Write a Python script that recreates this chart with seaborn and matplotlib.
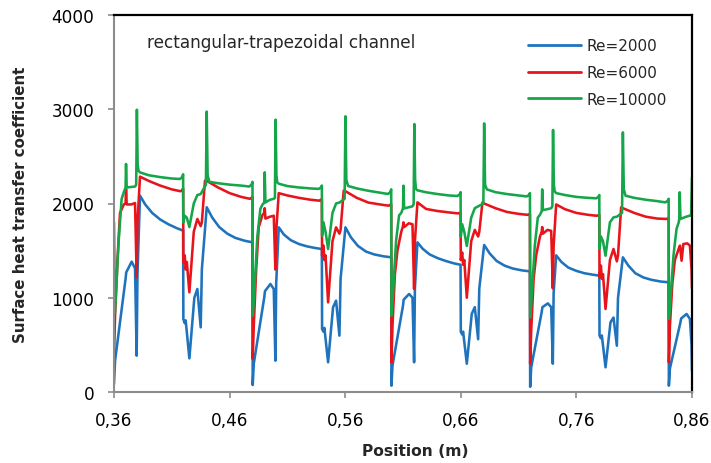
import numpy as np
import pandas as pd
import matplotlib
matplotlib.use("Agg")
import matplotlib.pyplot as plt
import seaborn as sns
from matplotlib.lines import Line2D

series_names = ["Re=2000", "Re=6000", "Re=10000"]
colors = ["#1f73bd", "#e8141b", "#16a64a"]
x_ticks = [0.36, 0.46, 0.56, 0.66, 0.76, 0.86]
x_tick_labels = ["0,36", "0,46", "0,56", "0,66", "0,76", "0,86"]
y_ticks = [0, 1000, 2000, 3000, 4000]

# ---- Re=2000 (blue) ----
blue_x = [
    0.3600, 0.3609, 0.3700, 0.3706, 0.3753, 0.3782, 0.3796, 0.3803, 0.3825, 0.3870, 0.3930, 0.4000, 0.4070, 0.4140, 0.4198,
    0.4200, 0.4212, 0.4220, 0.4252, 0.4295, 0.4321, 0.4350, 0.4360, 0.4402, 0.4450, 0.4510, 0.4580, 0.4650, 0.4730, 0.4798,
    0.4800, 0.4809, 0.4900, 0.4906, 0.4953, 0.4982, 0.4996, 0.5003, 0.5025, 0.5070, 0.5130, 0.5200, 0.5270, 0.5340, 0.5398,
    0.5400, 0.5412, 0.5420, 0.5452, 0.5495, 0.5521, 0.5550, 0.5560, 0.5602, 0.5650, 0.5710, 0.5780, 0.5850, 0.5930, 0.5998,
    0.6000, 0.6009, 0.6100, 0.6106, 0.6153, 0.6182, 0.6196, 0.6203, 0.6225, 0.6270, 0.6330, 0.6400, 0.6470, 0.6540, 0.6598,
    0.6600, 0.6612, 0.6620, 0.6652, 0.6695, 0.6721, 0.6750, 0.6760, 0.6802, 0.6850, 0.6910, 0.6980, 0.7050, 0.7130, 0.7198,
    0.7200, 0.7209, 0.7300, 0.7306, 0.7353, 0.7382, 0.7396, 0.7403, 0.7425, 0.7470, 0.7530, 0.7600, 0.7670, 0.7740, 0.7798,
    0.7800, 0.7812, 0.7820, 0.7852, 0.7895, 0.7921, 0.7950, 0.7960, 0.8002, 0.8050, 0.8110, 0.8180, 0.8250, 0.8330, 0.8398,
    0.8400, 0.8409, 0.8500, 0.8506, 0.8553, 0.8582, 0.8596, 0.8600,
]
blue_y = [
    85, 330, 1200, 1270, 1383, 1312, 385, 1250, 2083, 1990, 1900, 1830, 1780, 1740, 1712,
    774, 730, 760, 357, 1000, 1093, 686, 1300, 1960, 1850, 1750, 1680, 1635, 1605, 1588,
    74, 300, 1005, 1070, 1146, 1093, 332, 1150, 1747, 1670, 1610, 1570, 1545, 1528, 1517,
    668, 640, 680, 315, 900, 969, 598, 1200, 1747, 1640, 1550, 1490, 1460, 1440, 1429,
    67, 280, 916, 980, 1040, 1000, 315, 1100, 1588, 1520, 1460, 1420, 1390, 1365, 1350,
    640, 610, 640, 300, 830, 900, 560, 1100, 1560, 1470, 1390, 1340, 1310, 1290, 1280,
    55, 260, 850, 900, 940, 900, 300, 1050, 1450, 1380, 1320, 1285, 1260, 1245, 1235,
    600, 570, 600, 262, 740, 790, 491, 1000, 1429, 1340, 1260, 1215, 1190, 1172, 1164,
    67, 250, 739, 780, 828, 775, 500, 226,
]

# ---- Re=6000 (red) ----
red_x = [
    0.3600, 0.3609, 0.3630, 0.3652, 0.3685, 0.3700, 0.3704, 0.3710, 0.3750, 0.3782, 0.3796, 0.3803, 0.3825, 0.3900, 0.4000, 0.4100, 0.4175, 0.4190, 0.4198,
    0.4200, 0.4212, 0.4220, 0.4230, 0.4252, 0.4290, 0.4321, 0.4350, 0.4360, 0.4387, 0.4402, 0.4500, 0.4600, 0.4700, 0.4775, 0.4790, 0.4798,
    0.4800, 0.4809, 0.4830, 0.4852, 0.4885, 0.4900, 0.4904, 0.4910, 0.4950, 0.4982, 0.4996, 0.5003, 0.5025, 0.5100, 0.5200, 0.5300, 0.5375, 0.5390, 0.5398,
    0.5400, 0.5412, 0.5420, 0.5430, 0.5452, 0.5490, 0.5521, 0.5550, 0.5560, 0.5587, 0.5602, 0.5700, 0.5800, 0.5900, 0.5975, 0.5990, 0.5998,
    0.6000, 0.6009, 0.6030, 0.6052, 0.6085, 0.6100, 0.6104, 0.6110, 0.6150, 0.6182, 0.6196, 0.6203, 0.6225, 0.6300, 0.6400, 0.6500, 0.6575, 0.6590, 0.6598,
    0.6600, 0.6612, 0.6620, 0.6630, 0.6652, 0.6690, 0.6721, 0.6750, 0.6760, 0.6787, 0.6802, 0.6900, 0.7000, 0.7100, 0.7175, 0.7190, 0.7198,
    0.7200, 0.7209, 0.7230, 0.7252, 0.7285, 0.7300, 0.7304, 0.7310, 0.7350, 0.7382, 0.7396, 0.7403, 0.7425, 0.7500, 0.7600, 0.7700, 0.7775, 0.7790, 0.7798,
    0.7800, 0.7812, 0.7820, 0.7830, 0.7852, 0.7890, 0.7921, 0.7950, 0.7960, 0.7987, 0.8002, 0.8100, 0.8200, 0.8300, 0.8375, 0.8390, 0.8398,
    0.8400, 0.8409, 0.8430, 0.8452, 0.8485, 0.8496, 0.8510, 0.8525, 0.8559, 0.8582, 0.8596, 0.8600,
]
red_y = [
    385, 810, 1400, 1900, 1990, 2000, 2154, 1990, 1990, 2005, 1217, 1800, 2285, 2240, 2190, 2150, 2130, 2140, 2160,
    1376, 1450, 1300, 1380, 1058, 1700, 1836, 1760, 1800, 2242, 2240, 2170, 2110, 2070, 2050, 2060, 2070,
    350, 700, 1300, 1750, 1880, 1900, 1950, 1840, 1860, 1870, 1300, 1700, 2110, 2085, 2060, 2040, 2030, 2040, 2048,
    1446, 1553, 1400, 1450, 951, 1600, 1747, 1680, 1720, 2136, 2130, 2060, 2010, 1990, 1977, 1985, 1990,
    315, 700, 1250, 1500, 1700, 1760, 1800, 1750, 1790, 1780, 1093, 1600, 2012, 1942, 1920, 1905, 1895, 1900, 1905,
    1400, 1480, 1350, 1400, 1000, 1600, 1720, 1650, 1700, 2010, 2000, 1950, 1910, 1890, 1880, 1885, 1890,
    300, 650, 1200, 1450, 1650, 1700, 1750, 1680, 1720, 1710, 1100, 1550, 1990, 1940, 1900, 1880, 1870, 1875, 1880,
    1217, 1341, 1200, 1250, 881, 1400, 1517, 1386, 1450, 1960, 1950, 1900, 1860, 1840, 1836, 1840, 1845,
    315, 700, 1150, 1400, 1520, 1553, 1393, 1570, 1577, 1553, 1300, 1100,
]

# ---- Re=10000 (green) ----
green_x = [
    0.3600, 0.3609, 0.3640, 0.3666, 0.3685, 0.3700, 0.3704, 0.3710, 0.3750, 0.3782, 0.3792, 0.3798, 0.3805, 0.3812, 0.3825, 0.3900, 0.4000, 0.4100, 0.4170, 0.4190, 0.4198,
    0.4200, 0.4212, 0.4230, 0.4252, 0.4290, 0.4321, 0.4350, 0.4395, 0.4402, 0.4410, 0.4425, 0.4500, 0.4600, 0.4700, 0.4770, 0.4790, 0.4798,
    0.4800, 0.4809, 0.4840, 0.4866, 0.4885, 0.4900, 0.4904, 0.4910, 0.4950, 0.4982, 0.4992, 0.4998, 0.5005, 0.5012, 0.5025, 0.5100, 0.5200, 0.5300, 0.5370, 0.5390, 0.5398,
    0.5400, 0.5412, 0.5430, 0.5452, 0.5490, 0.5521, 0.5550, 0.5595, 0.5602, 0.5610, 0.5625, 0.5700, 0.5800, 0.5900, 0.5970, 0.5990, 0.5998,
    0.6000, 0.6009, 0.6040, 0.6066, 0.6085, 0.6100, 0.6104, 0.6110, 0.6150, 0.6182, 0.6192, 0.6198, 0.6205, 0.6212, 0.6225, 0.6300, 0.6400, 0.6500, 0.6570, 0.6590, 0.6598,
    0.6600, 0.6612, 0.6630, 0.6652, 0.6690, 0.6721, 0.6750, 0.6795, 0.6802, 0.6810, 0.6825, 0.6900, 0.7000, 0.7100, 0.7170, 0.7190, 0.7198,
    0.7200, 0.7209, 0.7240, 0.7266, 0.7285, 0.7300, 0.7304, 0.7310, 0.7350, 0.7382, 0.7392, 0.7398, 0.7405, 0.7412, 0.7425, 0.7500, 0.7600, 0.7700, 0.7770, 0.7790, 0.7798,
    0.7800, 0.7812, 0.7830, 0.7852, 0.7890, 0.7921, 0.7950, 0.7995, 0.8002, 0.8010, 0.8025, 0.8100, 0.8200, 0.8300, 0.8370, 0.8390, 0.8398,
    0.8400, 0.8409, 0.8440, 0.8466, 0.8485, 0.8490, 0.8494, 0.8500, 0.8550, 0.8582, 0.8592, 0.8600,
]
green_y = [
    1800, 845, 1600, 2048, 2120, 2170, 2419, 2170, 2175, 2180, 2200, 2995, 2400, 2348, 2330, 2300, 2280, 2265, 2260, 2280, 2310,
    1800, 1870, 1850, 1750, 2000, 2090, 2100, 2200, 2975, 2300, 2230, 2215, 2200, 2190, 2180, 2200, 2230,
    810, 950, 1650, 1942, 1990, 2010, 2331, 2012, 2040, 2050, 2060, 2889, 2300, 2225, 2210, 2185, 2170, 2160, 2155, 2170, 2190,
    1659, 1800, 1700, 1517, 1900, 2000, 2010, 2050, 2925, 2250, 2186, 2160, 2135, 2115, 2101, 2120, 2150,
    810, 950, 1600, 1874, 1900, 1950, 2189, 1948, 1960, 1970, 1990, 2843, 2250, 2154, 2140, 2119, 2100, 2085, 2080, 2095, 2120,
    1650, 1780, 1700, 1550, 1850, 1950, 1970, 2000, 2850, 2200, 2150, 2120, 2100, 2085, 2075, 2090, 2110,
    790, 930, 1550, 1850, 1880, 1920, 2150, 1930, 1940, 1950, 1970, 2780, 2200, 2130, 2110, 2090, 2070, 2060, 2055, 2070, 2090,
    1517, 1650, 1600, 1446, 1800, 1853, 1860, 1900, 2755, 2150, 2083, 2060, 2040, 2025, 2012, 2030, 2050,
    775, 900, 1450, 1729, 1800, 1840, 2119, 1836, 1860, 1871, 1871, 2278,
]

frames = []
for name, xs, ys in zip(series_names, [blue_x, red_x, green_x], [blue_y, red_y, green_y]):
    frames.append(pd.DataFrame({"x": xs, "y": ys, "series": name}))
df = pd.concat(frames, ignore_index=True)

sns.set_theme(style="white")
plt.rcParams["font.family"] = ["DejaVu Sans"]

W, H = 711, 464
fig = plt.figure(figsize=(W / 100, H / 100), dpi=100)
L, R, T, B = 114, 692, 16, 393
ax = fig.add_axes([L / W, 1 - B / H, (R - L) / W, (B - T) / H])

sns.lineplot(data=df, x="x", y="y", hue="series", hue_order=series_names,
             palette=colors, estimator=None, sort=False, units="series",
             linewidth=1.85, ax=ax, legend=False)

ax.set_xlim(0.36, 0.86)
ax.set_ylim(0, 4000)
ax.set_xticks(x_ticks)
ax.set_xticklabels(x_tick_labels)
ax.set_yticks(y_ticks)
ax.set_yticklabels([str(v) for v in y_ticks])

gray = "#8c8c8c"
for side in ["left", "bottom"]:
    ax.spines[side].set_color(gray)
    ax.spines[side].set_linewidth(1.5)
for side in ["top", "right"]:
    ax.spines[side].set_color("black")
    ax.spines[side].set_linewidth(1.6)
ax.tick_params(axis="both", which="major", direction="out", length=4.5, width=1.2,
               color=gray, labelsize=12.2, labelcolor="black", pad=9.5)
ax.tick_params(axis="x", bottom=True)
ax.tick_params(axis="y", left=True)
ax.grid(False)

ax.set_xlabel("Position (m)", fontsize=11.2, fontweight="bold")
ax.xaxis.set_label_coords((415 - L) / (R - L), -(452 - B) / (B - T), transform=ax.transAxes)
ax.xaxis.label.set_va("center")
ax.set_ylabel("Surface heat transfer coefficient", fontsize=10.8, fontweight="bold")
ax.yaxis.set_label_coords(-(L - 20) / (R - L), 0.5, transform=ax.transAxes)
ax.yaxis.label.set_va("center")

ax.text((147 - L) / (R - L), (B - 43) / (B - T), "rectangular-trapezoidal channel",
        transform=ax.transAxes, fontsize=12.2, va="center", ha="left")

handles = [Line2D([0], [0], color=c, linewidth=2.0) for c in colors]
leg = ax.legend(handles, series_names, loc="upper left",
                bbox_to_anchor=((528 - L) / (R - L), (B - 39) / (B - T)),
                frameon=False, fontsize=11, handlelength=3.5, handletextpad=0.33,
                labelspacing=0.78, borderpad=0, borderaxespad=0)

fig.savefig("out.png", dpi=100, facecolor="white")
